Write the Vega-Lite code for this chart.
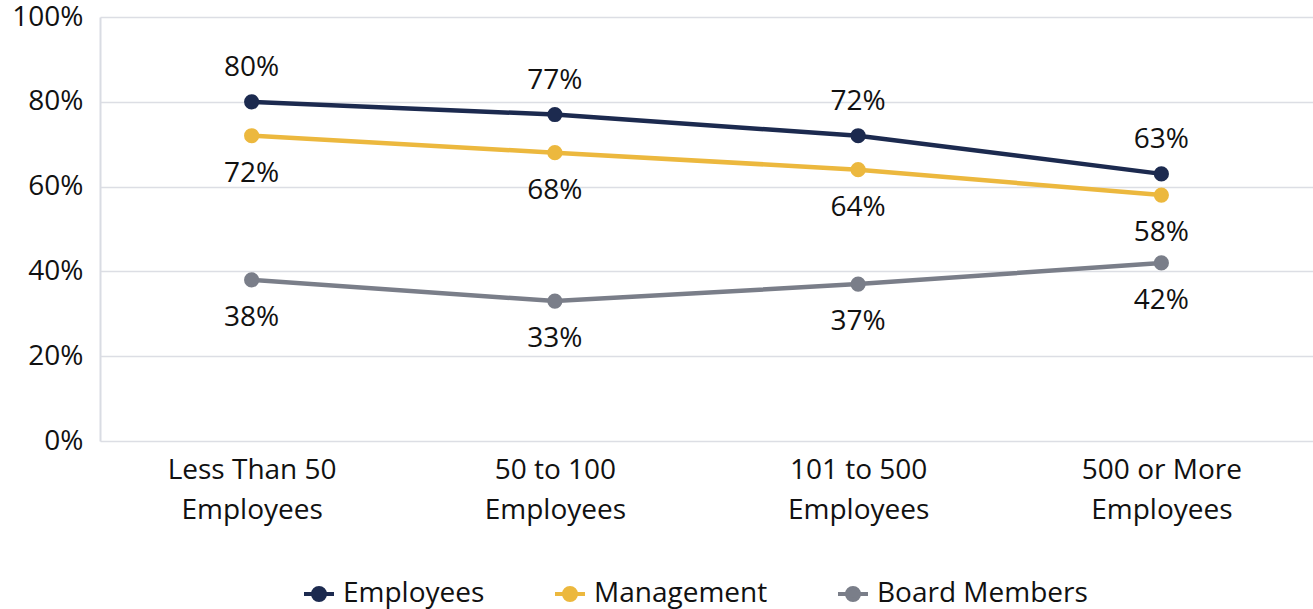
{
  "$schema": "https://vega.github.io/schema/vega-lite/v6.json",
  "autosize": "none",
  "width": 1213,
  "height": 424,
  "padding": {"left": 100, "top": 17, "right": 0, "bottom": 168},
  "background": "white",
  "config": {
    "font": "Open Sans",
    "view": {"stroke": null}
  },
  "data": {
    "values": [
      {"size": "Less Than 50 Employees", "group": "Employees", "value": 0.80},
      {"size": "50 to 100 Employees", "group": "Employees", "value": 0.77},
      {"size": "101 to 500 Employees", "group": "Employees", "value": 0.72},
      {"size": "500 or More Employees", "group": "Employees", "value": 0.63},
      {"size": "Less Than 50 Employees", "group": "Management", "value": 0.72},
      {"size": "50 to 100 Employees", "group": "Management", "value": 0.68},
      {"size": "101 to 500 Employees", "group": "Management", "value": 0.64},
      {"size": "500 or More Employees", "group": "Management", "value": 0.58},
      {"size": "Less Than 50 Employees", "group": "Board Members", "value": 0.38},
      {"size": "50 to 100 Employees", "group": "Board Members", "value": 0.33},
      {"size": "101 to 500 Employees", "group": "Board Members", "value": 0.37},
      {"size": "500 or More Employees", "group": "Board Members", "value": 0.42}
    ]
  },
  "encoding": {
    "x": {
      "field": "size",
      "type": "nominal",
      "sort": null,
      "scale": {"type": "point", "padding": 0.5},
      "axis": {
        "title": null,
        "labelAngle": 0,
        "domain": false,
        "ticks": false,
        "grid": false,
        "labelFontSize": 28,
        "labelColor": "#111111",
        "labelPadding": 15,
        "labelLineHeight": 40,
        "labelExpr": "[slice(datum.label, 0, lastindexof(datum.label, ' ')), slice(datum.label, lastindexof(datum.label, ' ') + 1)]"
      }
    },
    "y": {
      "field": "value",
      "type": "quantitative",
      "scale": {"domain": [0, 1], "nice": false},
      "axis": {
        "title": null,
        "format": ".0%",
        "values": [0, 0.2, 0.4, 0.6, 0.8, 1],
        "ticks": false,
        "domain": true,
        "domainColor": "#d9dce3",
        "domainWidth": 2,
        "gridColor": "#dcdee4",
        "gridWidth": 1.5,
        "labelFontSize": 28,
        "labelColor": "#111111",
        "labelPadding": 17
      }
    },
    "color": {
      "field": "group",
      "type": "nominal",
      "scale": {
        "domain": ["Employees", "Management", "Board Members"],
        "range": ["#1c2a4f", "#ecb83e", "#7a7e89"]
      },
      "legend": {
        "title": null,
        "orient": "none",
        "legendX": 205,
        "legendY": 563,
        "direction": "horizontal",
        "labelFontSize": 28,
        "labelLimit": 0,
        "labelColor": "#111111",
        "symbolType": "M-1.5,0L1.5,0M-0.6,0A0.6,0.6,0,1,0,0.6,0A0.6,0.6,0,1,0,-0.6,0Z",
        "symbolSize": 400,
        "symbolStrokeWidth": 4,
        "columnPadding": 62,
        "labelOffset": 10
      }
    }
  },
  "layer": [
    {"mark": {"type": "line", "strokeWidth": 4.5}},
    {"mark": {"type": "point", "filled": true, "size": 230, "opacity": 1}},
    {
      "transform": [{"filter": "datum.group === 'Employees'"}],
      "mark": {"type": "text", "dy": -34, "fontSize": 28},
      "encoding": {"text": {"field": "value", "type": "quantitative", "format": ".0%"}, "color": {"value": "#111111"}}
    },
    {
      "transform": [{"filter": "datum.group !== 'Employees'"}],
      "mark": {"type": "text", "dy": 38, "fontSize": 28},
      "encoding": {"text": {"field": "value", "type": "quantitative", "format": ".0%"}, "color": {"value": "#111111"}}
    }
  ]
}
